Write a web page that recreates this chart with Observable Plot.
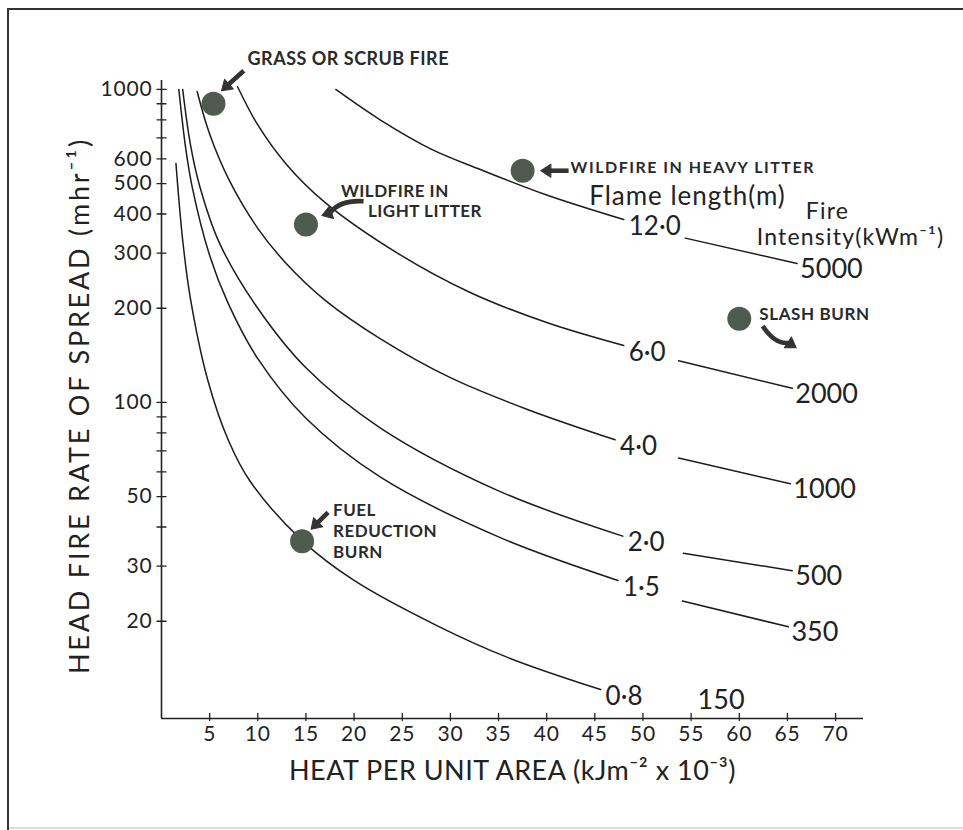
<!DOCTYPE html>
<html><head><meta charset="utf-8">
<script src="https://cdn.jsdelivr.net/npm/d3@7"></script>
<script src="https://cdn.jsdelivr.net/npm/@observablehq/plot@0.6"></script>
<style>
html,body{margin:0;padding:0;background:#fff;}
#wrap{position:relative;width:963px;height:830px;overflow:hidden;background:#fff;}
#chart{position:absolute;left:0;top:0;}
.edge{position:absolute;background:#333;}
#edgeTop{left:7px;top:8px;width:960px;height:2px;}
#edgeLeft{left:7px;top:8px;width:2px;height:830px;}
#edgeBottom{left:9px;top:827px;width:960px;height:2px;background:#ddd;}
svg{display:block}
</style></head><body>
<div id="wrap"><div id="chart"></div><div class="edge" id="edgeTop"></div><div class="edge" id="edgeLeft"></div><div class="edge" id="edgeBottom"></div></div>
<script>
// Fire intensity curves (kW/m) and their flame-length labels (m)
const intensities = [150, 350, 500, 1000, 2000, 5000];
const flameLengths = ["0·8", "1·5", "2·0", "4·0", "6·0", "12·0"];

// Heat per unit area (kJ m-2 x 10-3) and head fire rate of spread (m/hr)
const heat150 = [1.5, 2.2, 3.0, 4.8, 7.0, 9.2, 14.7, 20, 28.7, 36, 45.6];
const ros150  = [580, 330, 215, 118, 75, 56, 36, 27, 19.3, 15.3, 12.1];

const heat350 = [1.8, 2.5, 3.2, 5.0, 6.9, 10, 15, 22.7, 35, 47.4];
const ros350  = [1000, 653, 486, 295, 208, 138, 89, 57.8, 37.2, 27];
const tailHeat350 = [54.1, 65.1];
const tailRos350  = [23.2, 19.2];

const heat500 = [2.2, 3.0, 4.0, 6.0, 9.8, 15, 22.7, 35, 47.9];
const ros500  = [1000, 668, 487, 324, 204, 129, 83, 52.2, 37.4];
const tailHeat500 = [54.2, 65.5];
const tailRos500  = [33, 29];

const heat1000 = [3.7, 5.0, 7.0, 10, 13, 17, 22.7, 30, 38, 47.1];
const ros1000  = [985, 720, 515, 360, 277, 212, 160, 120, 95, 76];
const tailHeat1000 = [53.7, 65.3];
const tailRos1000  = [66.5, 55];

const heat2000 = [7.9, 10, 13, 17, 24.5, 32, 40, 48];
const ros2000  = [1020, 770, 575, 435, 300, 225, 180, 152];
const tailHeat2000 = [53.7, 65.5];
const tailRos2000  = [136, 111];

const heat5000 = [18.1, 22.7, 28, 33.1, 40, 48];
const ros5000  = [1000, 800, 645, 555, 460, 384];
const tailHeat5000 = [54.4, 66];
const tailRos5000  = [335, 278];

// Example fires
const fireNames = ["GRASS OR SCRUB FIRE", "WILDFIRE IN LIGHT LITTER", "WILDFIRE IN HEAVY LITTER", "FUEL REDUCTION BURN", "SLASH BURN"];
const fireHeat = [5.4, 15, 37.5, 14.6, 60];
const fireRos  = [900, 370, 550, 36, 185];

// Axis ticks
const xTicks = [5, 10, 15, 20, 25, 30, 35, 40, 45, 50, 55, 60, 65, 70];
const yTickLabels = [20, 30, 50, 100, 200, 300, 400, 500, 600, 1000];
const yMinorTicks = [40, 60, 70, 80, 90, 700, 800, 900];

// ---- build tables ----
const mains = [[heat150, ros150], [heat350, ros350], [heat500, ros500], [heat1000, ros1000], [heat2000, ros2000], [heat5000, ros5000]];
const tails = [null, [tailHeat350, tailRos350], [tailHeat500, tailRos500], [tailHeat1000, tailRos1000], [tailHeat2000, tailRos2000], [tailHeat5000, tailRos5000]];
const rows = [];
const mainEnds = [];
const tailEnds = [];
intensities.forEach((I, i) => {
  const [hs, rs] = mains[i];
  hs.forEach((h, j) => rows.push({key: I + "m", I, H: h, R: rs[j]}));
  mainEnds.push({I, flame: flameLengths[i], H: hs[hs.length - 1], R: rs[rs.length - 1]});
  if (tails[i]) {
    const [th, tr] = tails[i];
    th.forEach((h, j) => rows.push({key: I + "t", I, H: h, R: tr[j]}));
    tailEnds.push({I, H: th[th.length - 1], R: tr[tr.length - 1]});
  }
});
const fires = fireNames.map((n, i) => ({name: n, H: fireHeat[i], R: fireRos[i]}));

const yDomain = [9.78, 1068];
const ink = "#222";
const HEAD = 10;

const headShape = {
  draw(context, l) {
    const hw = 6.5;
    context.moveTo(-hw, -l + HEAD);
    context.lineTo(0, -l);
    context.lineTo(hw, -l + HEAD);
    context.closePath();
  }
};
const shaftShape = bend => ({
  draw(context, l) {
    context.moveTo(0, 0);
    context.quadraticCurveTo(bend, -l / 2, 0, -l + HEAD - 1);
  }
});
const tickShape = {draw(context, l) { context.moveTo(0, 0); context.lineTo(0, -l); }};

function arrowFor(i, angle, len, dx, dy, bend = 0) {
  const common = {x: "H", y: "R", rotate: angle, length: len, anchor: "end", dx, dy};
  return [
    Plot.vector([fires[i]], {...common, shape: shaftShape(bend), stroke: "#333", strokeWidth: 4.6, strokeLinecap: "butt", fill: "none"}),
    Plot.vector([fires[i]], {...common, shape: headShape, fill: "#333", stroke: "#333", strokeWidth: 1})
  ];
}
function annot(i, text, dx, dy, size, extra = {}) {
  return Plot.text([fires[i]], {x: "H", y: "R", text: () => text, textAnchor: "start", dx, dy,
    fontSize: size, fontWeight: 700, fill: "#2a2a2a", ...extra});
}

const chart = Plot.plot({
  width: 963,
  height: 830,
  marginLeft: 161,
  marginRight: 100,
  marginTop: 80,
  marginBottom: 112,
  style: {fontFamily: "Lato, 'Open Sans', sans-serif", color: ink, background: "transparent"},
  x: {domain: [0, 72.9], label: null},
  y: {type: "log", domain: yDomain, label: null},
  marks: [
    // axis lines
    Plot.ruleX([0], {stroke: ink, strokeWidth: 1.6}),
    Plot.ruleY([yDomain[0]], {stroke: ink, strokeWidth: 1.6}),
    // tick marks crossing the axes
    Plot.vector([...yTickLabels, ...yMinorTicks], {x: 0, y: d => d, rotate: 90, length: 9, anchor: "middle", shape: tickShape, stroke: ink, strokeWidth: 1.3}),
    Plot.vector(xTicks, {x: d => d, y: yDomain[0], rotate: 0, length: 7, anchor: "start", dy: 2, shape: tickShape, stroke: ink, strokeWidth: 1.3}),
    // tick labels
    Plot.axisY(yTickLabels, {anchor: "left", tickSize: 0, tickPadding: 9, fontSize: 21, fill: ink, tickFormat: d => String(d), label: null}),
    Plot.axisX(xTicks, {anchor: "bottom", tickSize: 0, tickPadding: 8, fontSize: 21, fill: ink, tickFormat: d => String(d), label: null}),
    // axis titles
    Plot.text(["HEAT PER UNIT AREA (kJm⁻² x 10⁻³)"], {frameAnchor: "bottom", lineAnchor: "middle", textAnchor: "middle", dy: 53, fontSize: 27, fill: ink}),
    Plot.text(["HEAD FIRE RATE OF SPREAD (mhr⁻¹)"], {frameAnchor: "left", lineAnchor: "middle", textAnchor: "middle", dx: -81, dy: 6, rotate: -90, fontSize: 27, fill: ink}),
    // curves
    Plot.line(rows, {x: "H", y: "R", z: "key", curve: "catmull-rom", stroke: "#1c1c1c", strokeWidth: 1.5}),
    // flame length labels & intensity labels
    Plot.text(mainEnds, {x: "H", y: "R", text: "flame", textAnchor: "start", dx: 5, dy: 7, fontSize: 26, fill: ink}),
    Plot.text(tailEnds, {x: "H", y: "R", text: d => String(d.I), textAnchor: "start", dx: 3, dy: 6, fontSize: 27, fill: ink}),
    Plot.text(mainEnds.filter(d => d.I === 150), {x: "H", y: "R", text: d => String(d.I), textAnchor: "start", dx: 97, dy: 11, fontSize: 27, fill: ink}),
    // headers
    Plot.text(["Flame length(m)"], {frameAnchor: "top-right", lineAnchor: "middle", textAnchor: "middle", dx: -176, dy: 116, fontSize: 26, fill: ink}),
    Plot.text(["Fire"], {frameAnchor: "top-right", lineAnchor: "middle", textAnchor: "middle", dx: -36, dy: 131, fontSize: 23, fill: ink}),
    Plot.text(["Intensity(kWm⁻¹)"], {frameAnchor: "top-right", lineAnchor: "middle", textAnchor: "middle", dx: -13, dy: 157, fontSize: 23, fill: ink}),
    // example fires
    Plot.dot(fires, {x: "H", y: "R", r: 12, fill: "#4f5a50", stroke: "none"}),
    annot(0, "GRASS OR SCRUB FIRE", 34, -45, 18),
    annot(1, "WILDFIRE IN", 35, -33, 17),
    annot(1, "LIGHT LITTER", 62, -13, 17),
    annot(2, "WILDFIRE IN HEAVY LITTER", 48, -3, 16),
    annot(3, "FUEL\nREDUCTION\nBURN", 31, -11, 17, {lineHeight: 1.25}),
    annot(4, "SLASH BURN", 20, -4, 17),
    arrowFor(0, 228, 30, 8, -13),
    arrowFor(1, 251, 44, 16, -9, 9),
    arrowFor(2, 270, 28, 18, 0),
    arrowFor(3, 225, 24, 9, -12),
    arrowFor(4, 123, 40, 57, 29, 9)
  ]
});

// letter spacing to imitate the wide lettering of the original
const spacing = {
  "GRASS OR SCRUB FIRE": 0.5, "WILDFIRE IN": 0.5, "LIGHT LITTER": 0.5,
  "WILDFIRE IN HEAVY LITTER": 1.5, "FUELREDUCTIONBURN": 0.5, "SLASH BURN": 0.6,
  "Flame length(m)": 1, "Fire": 1.2, "Intensity(kWm⁻¹)": 1.2,
  "HEAD FIRE RATE OF SPREAD (mhr⁻¹)": 2.8,
  "HEAT PER UNIT AREA (kJm⁻² x 10⁻³)": 0.5
};
chart.querySelectorAll("text").forEach(t => {
  const s = spacing[t.textContent];
  if (s != null) t.style.letterSpacing = s + "px";
});
chart.querySelectorAll('[aria-label="y-axis tick label"] text, [aria-label="x-axis tick label"] text').forEach(t => {
  t.style.letterSpacing = "0.8px";
});
document.getElementById("chart").appendChild(chart);
</script>
</body></html>
